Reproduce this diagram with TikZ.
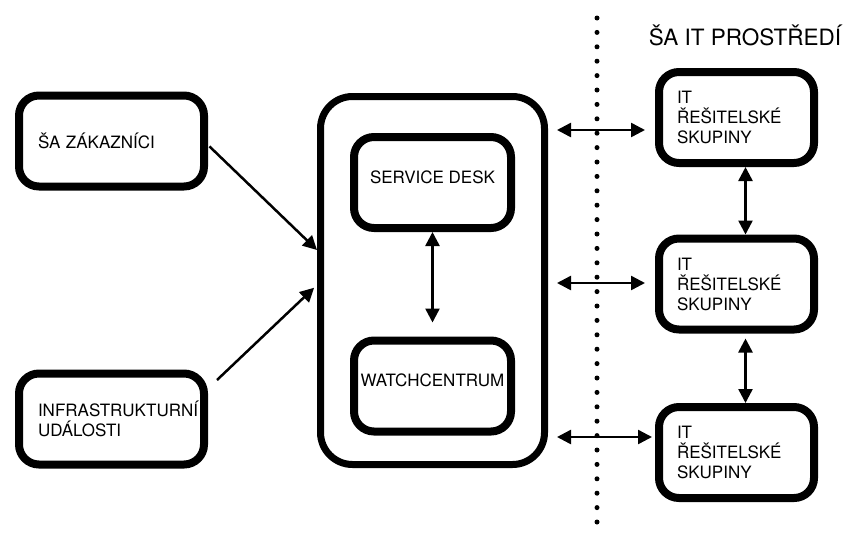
\documentclass[tikz,border=0pt]{standalone}
\usepackage{fontspec}
\setmainfont{TeX Gyre Heros}
\usetikzlibrary{positioning, arrows.meta}

\tikzset{
    box/.style={draw, line width=8pt, rounded corners=20pt, minimum height=91pt, font=\fontsize{17}{20}\selectfont},
    leftbox/.style={box, minimum width=185pt, text width=147pt, inner xsep=19pt, align=left},
    itbox/.style={box, minimum width=155pt, text width=119pt, inner xsep=18pt, align=left},
    innerbox/.style={box, minimum width=157pt, align=center},
    link/.style={line width=2.5pt, {Triangle[length=14pt,width=14pt]}-{Triangle[length=14pt,width=14pt]}},
    feed/.style={line width=2.5pt, -{Triangle[length=14pt,width=14pt]}},
    divider/.style={line width=5pt, line cap=round, dash pattern=on 0pt off 14.4pt},
}

\begin{document}
\begin{tikzpicture}[x=1pt,y=-1pt]
    \useasboundingbox (0,0) rectangle (849,536);

    % left side
    \node[leftbox] (zakaznici) at (111.5,141) {ŠA ZÁKAZNÍCI};
    \node[leftbox] (udalosti) at (111.5,419) {\mbox{INFRASTRUKTURNÍ}\\ UDÁLOSTI};

    % middle
    \node[draw, line width=7pt, rounded corners=32pt, minimum width=224pt, minimum height=368pt] (centrum) at (432.5,280.5) {};
    \node[innerbox, text depth=11pt] (servicedesk) at (432.5,182.5) {SERVICE DESK};
    \node[innerbox, text depth=11pt] (watch) at (432.5,386) {WATCHCENTRUM};

    % it side
    \coordinate (divtop) at (597,18);
    \coordinate (divbot) at (597,536);
    \draw[divider] (divtop) -- (divbot);
    \node[font=\fontsize{22.5}{26}\selectfont] (prostredi) at (745,35) {ŠA IT PROSTŘEDÍ};
    \node[itbox] (tym1) at (736.5,117.5) {IT\\ ŘEŠITELSKÉ\\ SKUPINY};
    \node[itbox] (tym2) at (736.5,284) {IT\\ ŘEŠITELSKÉ\\ SKUPINY};
    \node[itbox] (tym3) at (736.5,452.5) {IT\\ ŘEŠITELSKÉ\\ SKUPINY};

    % arrows
    \draw[feed, shorten <=2pt] ([yshift=-4pt]zakaznici.east) -- ([yshift=30.5pt]centrum.west);
    \draw[feed, shorten >=4pt] ([xshift=9pt,yshift=39pt]udalosti.east) -- ([yshift=-4.5pt]centrum.west);
    \draw[link, shorten >=14pt] (servicedesk) -- (watch);

    \coordinate (h1) at ([yshift=-12.5pt]tym1.west);
    \coordinate (h2) at ([yshift=1pt]tym2.west);
    \coordinate (h3) at ([yshift=15.5pt]tym3.west);
    \draw[link, shorten <=9pt, shorten >=10pt] (centrum.east |- h1) -- (h1);
    \draw[link, shorten <=9pt, shorten >=10pt] (centrum.east |- h2) -- (h2);
    \draw[link, shorten <=9pt, shorten >=3pt] (centrum.east |- h3) -- (h3);

    \draw[link] ([xshift=9pt]tym1.south) -- ([xshift=9pt]tym2.north);
    \draw[link, shorten <=5pt] ([xshift=9pt]tym2.south) -- ([xshift=9pt]tym3.north);
\end{tikzpicture}
\end{document}
